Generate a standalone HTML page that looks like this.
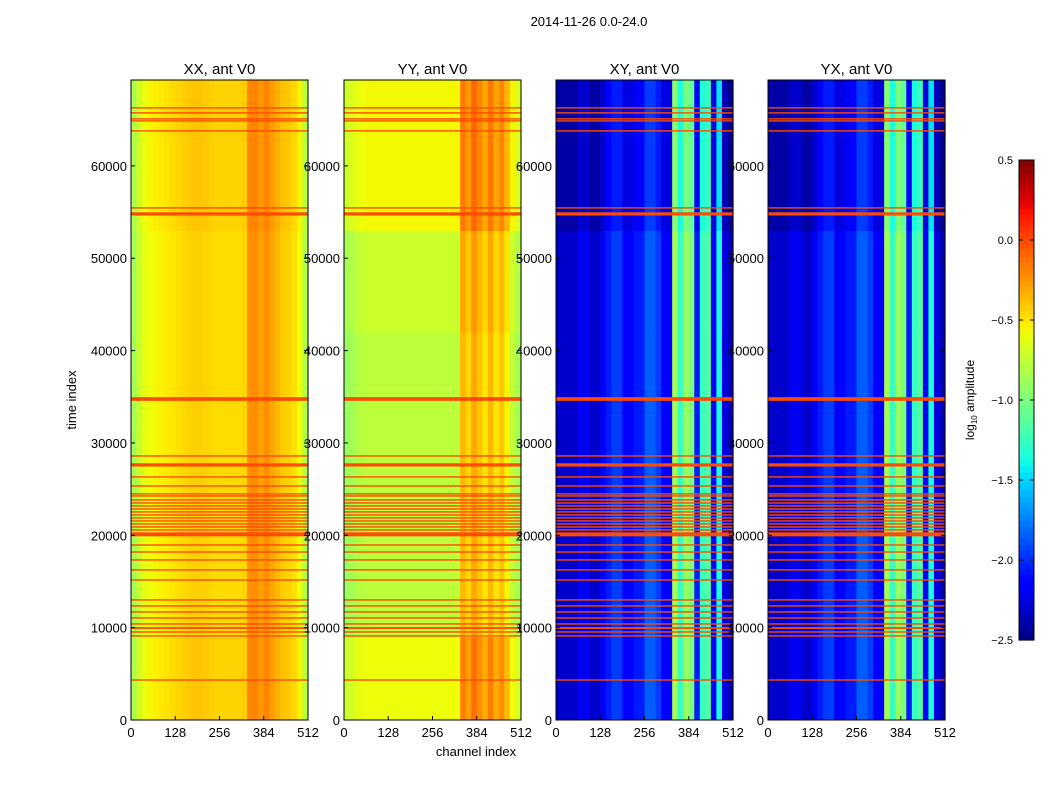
<!DOCTYPE html>
<html><head><meta charset="utf-8"><style>
body{margin:0;background:#fff;font-family:"Liberation Sans",sans-serif}
svg text{font-family:"Liberation Sans",sans-serif}
</style></head><body>
<svg id="fig" width="1050" height="800" xmlns="http://www.w3.org/2000/svg">
<text x="589" y="26" font-size="13" text-anchor="middle">2014-11-26 0.0-24.0</text>
<text x="76" y="400" font-size="13" text-anchor="middle" transform="rotate(-90 76 400)">time index</text>
<text x="476" y="756" font-size="13" text-anchor="middle">channel index</text>
<g id="panels"></g>
<g id="cbar"></g>
</svg>
<script>
const panelTitles=["XX, ant V0","YY, ant V0","XY, ant V0","YX, ant V0"];
const xTicks=[0,128,256,384,512];
const yTicks=[0,10000,20000,30000,40000,50000,60000];
const cbTicks=[-2.5,-2.0,-1.5,-1.0,-0.5,0.0,0.5];
const xxProfile=[-0.85,-0.72,-0.62,-0.58,-0.56,-0.54,-0.52,-0.5,-0.48,-0.46,-0.44,-0.43,-0.43,-0.44,-0.46,-0.47,-0.47,-0.47,-0.47,-0.47,-0.45,-0.22,-0.22,-0.28,-0.22,-0.3,-0.36,-0.42,-0.44,-0.48,-0.58,-0.8];
const yyProfile=[-0.9,-0.85,-0.8,-0.78,-0.76,-0.76,-0.76,-0.76,-0.76,-0.76,-0.76,-0.76,-0.76,-0.76,-0.76,-0.76,-0.76,-0.76,-0.76,-0.76,-0.76,-0.35,-0.45,-0.3,-0.4,-0.5,-0.35,-0.5,-0.4,-0.55,-0.75,-0.85];
const xyProfile=[-2.3,-2.3,-2.3,-2.3,-2.2,-2.2,-2.3,-2.3,-2.2,-2.05,-1.95,-1.95,-2.15,-2.15,-2.05,-2.05,-1.85,-1.85,-1.95,-2.15,-2.15,-0.85,-1.25,-0.9,-1.0,-2.05,-1.25,-1.15,-2.15,-1.35,-2.25,-2.35];
const yxProfile=[-2.3,-2.3,-2.3,-2.3,-2.2,-2.2,-2.3,-2.3,-2.2,-2.05,-1.95,-1.95,-2.15,-2.15,-2.05,-2.05,-1.85,-1.85,-1.95,-2.15,-2.15,-0.85,-1.25,-0.9,-1.0,-2.05,-1.25,-1.15,-2.15,-1.35,-2.25,-2.35];
const segStart=[0,9000,42000,53000];
const segEnd=[9000,42000,53000,69300];
const xxOffset=[0.03,0,0,0.03];
const yyOffset=[0.18,0,0.05,0.2];
const xyOffset=[0,0,0,-0.1];
const flagTimes=[66280,65740,65090,64870,63790,55450,54800,34760,28590,27620,26320,25340,24480,24260,23830,23500,23180,22850,22530,22200,21880,21550,21230,20900,20580,20250,20040,18950,18190,17330,16250,15160,13000,12350,11700,11050,10400,9960,9530,9100,4330];
const flagWidths=[150,150,150,150,150,150,350,400,150,350,150,150,150,150,150,150,150,150,150,150,150,150,150,150,150,150,300,150,150,150,150,150,150,150,150,150,150,200,150,150,150];
const NS="http://www.w3.org/2000/svg";
const JR=[[0,0],[0.35,0],[0.66,1],[0.89,1],[1,0.5]];
const JG=[[0,0],[0.125,0],[0.375,1],[0.64,1],[0.91,0],[1,0]];
const JB=[[0,0.5],[0.11,1],[0.34,1],[0.65,0],[1,0]];
function interp(seg,t){for(let i=1;i<seg.length;i++){if(t<=seg[i][0]){const a=seg[i-1],b=seg[i];return a[1]+(b[1]-a[1])*(t-a[0])/(b[0]-a[0]||1);}}return seg[seg.length-1][1];}
function jet(v){let t=(v+2.5)/3;t=Math.max(0,Math.min(1,t));
 const c=x=>Math.round(255*x);
 return `rgb(${c(interp(JR,t))},${c(interp(JG,t))},${c(interp(JB,t))})`;}
function el(tag,attrs,parent){const e=document.createElementNS(NS,tag);for(const k in attrs)e.setAttribute(k,attrs[k]);parent.appendChild(e);return e;}
const panelX=[131,344,556,768],PW=177,PT=80,PB=720,TMAX=69300;
const profiles=[xxProfile,yyProfile,xyProfile,yxProfile];
const offsets=[xxOffset,yyOffset,xyOffset,xyOffset];
const ty=t=>PB-(t/TMAX)*(PB-PT);
const root=document.getElementById('panels');
panelX.forEach((x0,p)=>{
 const g=el('g',{},root);
 
 
 const prof=profiles[p],bw=PW/prof.length;
 segStart.forEach((s,si)=>{
  prof.forEach((v,i)=>{
   const r=el('rect',{x:x0+i*bw,y:ty(segEnd[si]),width:bw+0.6,height:ty(segStart[si])-ty(segEnd[si])+0.5,fill:jet(v+offsets[p][si])},g);
   
   
  });
 });
 flagTimes.forEach((t,i)=>{
  const h=Math.max(1.3,flagWidths[i]/TMAX*640);
  const r=el('rect',{x:x0,y:ty(t)-h/2,width:PW,height:h,fill:'#ff4a00'},g);
  
  
 });
 const fr=el('rect',{x:x0,y:PT,width:PW,height:PB-PT,fill:'none',stroke:'#000','stroke-width':1},g);
 
 
 const tt=el('text',{x:x0+PW/2,y:74,'font-size':15,'text-anchor':'middle'},g);tt.textContent=panelTitles[p];
 
 
 xTicks.forEach(c=>{const xx=x0+c/512*PW;
  el('line',{x1:xx,x2:xx,y1:PB,y2:PB-4,stroke:'#000'},g);
  const l=el('text',{x:xx,y:PB+17,'font-size':13,'text-anchor':'middle'},g);l.textContent=c;
  
  });
 yTicks.forEach(t=>{const yy=ty(t);
  el('line',{x1:x0,x2:x0+4,y1:yy,y2:yy,stroke:'#000'},g);
  el('line',{x1:x0+PW,x2:x0+PW-4,y1:yy,y2:yy,stroke:'#000'},g);
  const l=el('text',{x:x0-4,y:yy+5,'font-size':13,'text-anchor':'end'},g);l.textContent=t;
  
  });
});
const cb=document.getElementById('cbar');
const CX=1019,CW=15,CT=160,CB=640,N=80;
for(let i=0;i<N;i++){const v=-2.5+3*(i+0.5)/N;
 const r=el('rect',{x:CX,y:CB-(i+1)*(CB-CT)/N,width:CW,height:(CB-CT)/N+0.6,fill:jet(v)},cb);
 
 }
el('rect',{x:CX,y:CT,width:CW,height:CB-CT,fill:'none',stroke:'#000'},cb);
cbTicks.forEach(v=>{const yy=CB-(v+2.5)/3*(CB-CT);
 el('line',{x1:CX,x2:CX+4,y1:yy,y2:yy,stroke:'#000'},cb);
 el('line',{x1:CX+CW,x2:CX+CW-4,y1:yy,y2:yy,stroke:'#000'},cb);
 const l=el('text',{x:1013,y:yy+4,'font-size':11,'text-anchor':'end'},cb);l.textContent=v.toFixed(1).replace('-','\u2212');
 
 });
const cl=el('text',{x:974,y:400,'font-size':12,'text-anchor':'middle',transform:'rotate(-90 974 400)'},cb);
cl.innerHTML='log<tspan font-size="8" dy="3">10</tspan><tspan dy="-3"> amplitude</tspan>';


</script>
</body></html>
